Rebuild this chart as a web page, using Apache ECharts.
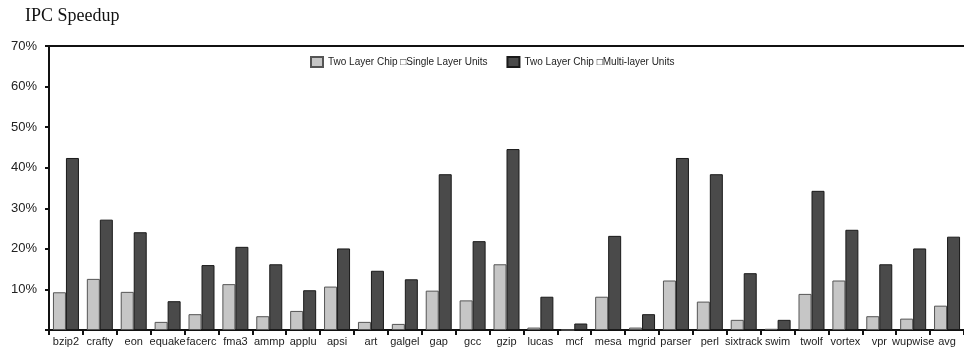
<!DOCTYPE html>
<html>
<head>
<meta charset="utf-8">
<script src="https://cdn.jsdelivr.net/npm/echarts@6/dist/echarts.min.js"></script>
<style>
  html, body { margin: 0; padding: 0; background: #fff; }
  #chart { width: 964px; height: 350px; }
</style>
</head>
<body>
<div id="chart"></div>
<script>
// Benchmarks (SPEC CPU2000) plus the average
const benchmarks = ['bzip2', 'crafty', 'eon', 'equake', 'facerc', 'fma3', 'ammp', 'applu', 'apsi',
  'art', 'galgel', 'gap', 'gcc', 'gzip', 'lucas', 'mcf', 'mesa', 'mgrid', 'parser', 'perl',
  'sixtrack', 'swim', 'twolf', 'vortex', 'vpr', 'wupwise', 'avg'];

// IPC speedup in percent
const singleLayerUnits = [9.3, 12.6, 9.4, 2.0, 3.9, 11.3, 3.4, 4.7, 10.7,
  2.0, 1.5, 9.7, 7.3, 16.2, 0.6, 0, 8.2, 0.6, 12.2, 7.0,
  2.5, 0.3, 8.9, 12.2, 3.4, 2.8, 6.0];
const multiLayerUnits = [42.4, 27.2, 24.1, 7.1, 16.0, 20.5, 16.2, 9.8, 20.1,
  14.6, 12.5, 38.4, 21.9, 44.6, 8.2, 1.6, 23.2, 3.9, 42.4, 38.4,
  14.0, 2.5, 34.3, 24.7, 16.2, 20.1, 23.0];

const seriesNames = ['Two Layer Chip \u25A1Single Layer Units', 'Two Layer Chip \u25A1Multi-layer Units'];
const yTicks = [0, 10, 20, 30, 40, 50, 60, 70];

const chart = echarts.init(document.getElementById('chart'), null, { renderer: 'canvas' });
const textColor = '#222';
const axisColor = '#111';

chart.setOption({
  animation: false,
  backgroundColor: '#fff',
  title: {
    text: 'IPC Speedup',
    left: 20, top: 2,
    textStyle: { fontFamily: 'Liberation Serif', fontWeight: 'normal', fontSize: 18, color: '#111' }
  },
  legend: {
    left: 305, top: 51,
    itemWidth: 12, itemHeight: 10, itemGap: 19,
    icon: 'rect',
    textStyle: { fontFamily: 'Liberation Sans', fontSize: 10, color: textColor },
    data: seriesNames
  },
  grid: { left: 49, top: 46, width: 917, height: 284 },
  xAxis: [
    {
      type: 'category',
      data: benchmarks,
      axisLine: { lineStyle: { color: axisColor, width: 2 } },
      axisTick: { show: true, length: 5, lineStyle: { color: axisColor, width: 2 } },
      axisLabel: { interval: 0, margin: 6, fontFamily: 'Liberation Sans', fontSize: 11, color: textColor }
    },
    {
      // frame line along the top of the plot
      type: 'category',
      position: 'top',
      data: benchmarks,
      axisLine: { show: true, lineStyle: { color: axisColor, width: 2 } },
      axisTick: { show: false },
      axisLabel: { show: false }
    }
  ],
  yAxis: {
    type: 'value',
    min: yTicks[0], max: yTicks[yTicks.length - 1], interval: 10,
    axisLine: { show: true, lineStyle: { color: axisColor, width: 2 } },
    axisTick: { show: true, length: 4, lineStyle: { color: axisColor, width: 2 } },
    splitLine: { show: false },
    axisLabel: {
      margin: 12, fontFamily: 'Liberation Sans', fontSize: 13, color: textColor,
      formatter: v => (v === 0 ? '' : v + '%')
    }
  },
  series: [
    {
      name: seriesNames[0], type: 'bar', data: singleLayerUnits,
      barWidth: 13, barGap: '0%',
      itemStyle: { color: '#c6c6c6', borderColor: '#555', borderWidth: 1 }
    },
    {
      name: seriesNames[1], type: 'bar', data: multiLayerUnits,
      barWidth: 13, barGap: '0%',
      itemStyle: { color: '#4a4a4a', borderColor: '#1a1a1a', borderWidth: 1 }
    }
  ]
});
</script>
</body>
</html>
